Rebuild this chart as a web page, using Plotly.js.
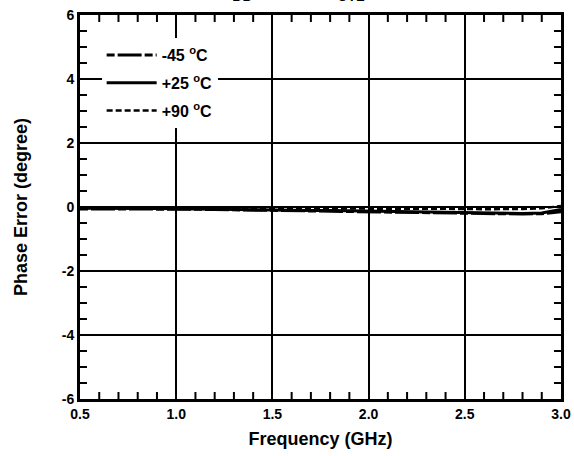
<!DOCTYPE html>
<html>
<head>
<meta charset="utf-8">
<script src="https://cdn.plot.ly/plotly-3.0.1.min.js"></script>
<style>html,body{margin:0;padding:0;background:#fff;}#chart{width:574px;height:456px;}</style>
</head>
<body>
<div id="chart"></div>
<script>
const freq = [0.5,0.6,0.7,0.8,0.9,1.0,1.1,1.2,1.3,1.4,1.5,1.6,1.7,1.8,1.9,2.0,2.1,2.2,2.3,2.4,2.5,2.6,2.7,2.8,2.9,3.0];
const errM45 = [-0.06,-0.06,-0.05,-0.05,-0.06,-0.06,-0.07,-0.08,-0.09,-0.10,-0.11,-0.12,-0.13,-0.14,-0.15,-0.16,-0.17,-0.18,-0.19,-0.20,-0.21,-0.21,-0.22,-0.22,-0.21,-0.15];
const errP25 = [-0.04,-0.05,-0.05,-0.05,-0.05,-0.06,-0.06,-0.07,-0.08,-0.08,-0.09,-0.10,-0.11,-0.11,-0.12,-0.13,-0.13,-0.14,-0.15,-0.16,-0.17,-0.18,-0.19,-0.20,-0.19,-0.08];
const errP90 = [-0.02,-0.02,-0.01,-0.02,-0.02,-0.02,-0.03,-0.03,-0.03,-0.04,-0.04,-0.04,-0.05,-0.05,-0.05,-0.06,-0.06,-0.06,-0.06,-0.06,-0.06,-0.07,-0.07,-0.06,-0.04,0.03];
const seriesNames = ['<b>-45 <sup>o</sup>C</b>', '<b>+25 <sup>o</sup>C</b>', '<b>+90 <sup>o</sup>C</b>'];
const xRange = [0.5, 3.0];
const yRange = [-6, 6];
const xTicks = [0.5,1.0,1.5,2.0,2.5,3.0];
const xTickText = ['<b>0.5</b>','<b>1.0</b>','<b>1.5</b>','<b>2.0</b>','<b>2.5</b>','<b>3.0</b>'];
const xMinorTicks = [0.6,0.7,0.8,0.9,1.1,1.2,1.3,1.4,1.6,1.7,1.8,1.9,2.1,2.2,2.3,2.4,2.6,2.7,2.8,2.9];
const yTicks = [-6,-4,-2,0,2,4,6];
const yTickText = ['<b>-6</b>','<b>-4</b>','<b>-2</b>','<b>0</b>','<b>2</b>','<b>4</b>','<b>6</b>'];
const yMinorTicks = [-5.5,-5,-4.5,-3.5,-3,-2.5,-1.5,-1,-0.5,0.5,1,1.5,2.5,3,3.5,4.5,5,5.5];

const fam = 'Liberation Sans, Arial, sans-serif';
const tickMarker = (sym) => ({symbol: sym, size: 10, color: '#000', line: {color: '#000', width: 2}});
const traces = [
  // minor tick marks on the bottom and top frame edges
  {x: xMinorTicks.concat(xMinorTicks), y: xMinorTicks.map(() => yRange[0]).concat(xMinorTicks.map(() => yRange[1])),
    mode: 'markers', marker: tickMarker('line-ns'), cliponaxis: true, showlegend: false, hoverinfo: 'skip'},
  // minor tick marks on the left and right frame edges
  {x: yMinorTicks.map(() => xRange[0]).concat(yMinorTicks.map(() => xRange[1])), y: yMinorTicks.concat(yMinorTicks),
    mode: 'markers', marker: tickMarker('line-ew'), cliponaxis: true, showlegend: false, hoverinfo: 'skip'},
  {x: freq, y: errM45, name: seriesNames[0], legendgroup: 'a', mode: 'lines', line: {color: '#000', width: 3, dash: '8px,3px,24px,3px'}},
  {x: freq, y: errP25, name: seriesNames[1], legendgroup: 'b', mode: 'lines', line: {color: '#000', width: 3, dash: 'solid'}},
  {x: freq, y: errP90, name: seriesNames[2], legendgroup: 'c', mode: 'lines', line: {color: '#000', width: 2.5, dash: '6px,3px'}}
];
const tickFont = {family: fam, size: 14, color: '#000'};
const titleFont = {family: fam, size: 18, color: '#000'};
const layout = {
  width: 574, height: 456,
  margin: {l: 80, r: 13, t: 15, b: 57},
  paper_bgcolor: '#fff', plot_bgcolor: '#fff',
  showlegend: true,
  legend: {x: 0.045, y: 0.94, xanchor: 'left', yanchor: 'top', bgcolor: '#fff', borderwidth: 0,
    traceorder: 'grouped', tracegroupgap: 4, itemwidth: 50,
    font: {family: fam, size: 16, color: '#000'}},
  xaxis: {
    range: xRange, tickmode: 'array', tickvals: xTicks, ticktext: xTickText,
    showline: true, linecolor: '#000', linewidth: 3, mirror: 'ticks',
    ticks: 'inside', ticklen: 7, tickwidth: 2, tickcolor: '#000',
    showgrid: true, gridcolor: '#000', gridwidth: 2, zeroline: false,
    tickfont: tickFont,
    title: {text: '<b>Frequency (GHz)</b>', standoff: 12, font: titleFont}
  },
  yaxis: {
    range: yRange, tickmode: 'array', tickvals: yTicks, ticktext: yTickText,
    showline: true, linecolor: '#000', linewidth: 3, mirror: 'ticks',
    ticks: 'inside', ticklen: 7, tickwidth: 2, tickcolor: '#000',
    showgrid: true, gridcolor: '#000', gridwidth: 2, zeroline: false,
    tickfont: tickFont,
    title: {text: '<b>Phase Error (degree)</b>', standoff: 30, font: titleFont}
  },
  annotations: [
    {text: '<b>V<sub>DD</sub> = +5 V</b>', xref: 'paper', yref: 'paper', x: 0.285, y: 1, xanchor: 'left', yanchor: 'bottom', yshift: 9, showarrow: false,
      font: {family: fam, size: 20, color: '#000'}},
    {text: '<b>V<sub>CTL</sub> = 0 V / +5 V</b>', xref: 'paper', yref: 'paper', x: 0.503, y: 1, xanchor: 'left', yanchor: 'bottom', yshift: 9, showarrow: false,
      font: {family: fam, size: 20, color: '#000'}}
  ]
};
Plotly.newPlot('chart', traces, layout, {displayModeBar: false, staticPlot: true});
</script>
</body>
</html>
